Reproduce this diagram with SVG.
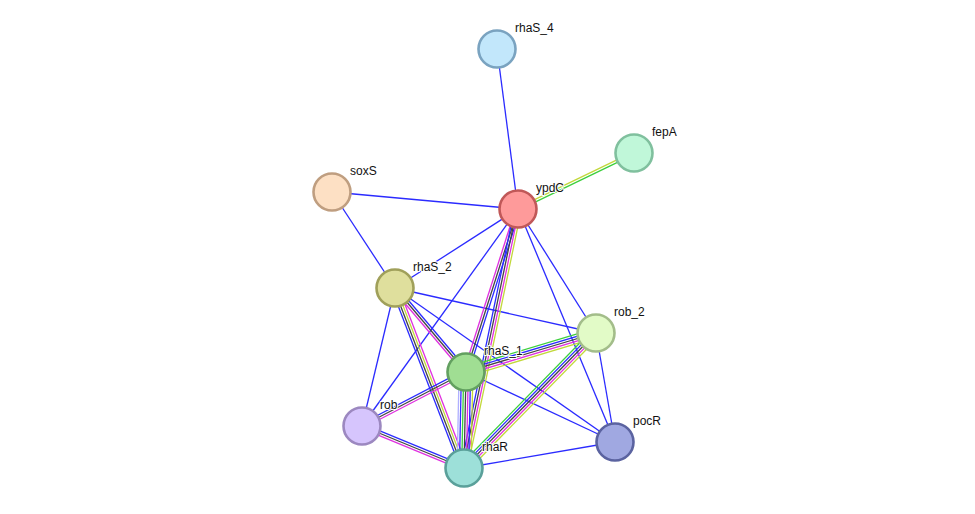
<svg xmlns="http://www.w3.org/2000/svg" width="975" height="514" viewBox="0 0 975 514">
<style>
.e line{stroke-width:1.3;fill:none}
.s{stroke:#2b2bff;stroke-width:1.3}
.b{stroke:#2b2bff}.k{stroke:#444}.m{stroke:#e030e0}.y{stroke:#c2d83a}.g{stroke:#3ccf3c}.l{stroke:#b0b0ff}
.n circle{stroke-width:2.6}
.n text{font-family:"Liberation Sans",Arial,sans-serif;font-size:12px;fill:#111;paint-order:stroke;stroke:#fff;stroke-width:2px;stroke-linejoin:round}
</style>
<rect width="975" height="514" fill="#fff"/>
<g id="connectors" class="e">
<line class="s" x1="497" y1="49" x2="518" y2="209"/>
<line class="s" x1="332" y1="192" x2="518" y2="209"/>
<line class="s" x1="332" y1="192" x2="395" y2="288"/>
<line class="s" x1="518" y1="209" x2="395" y2="288"/>
<line class="s" x1="518" y1="209" x2="362" y2="426"/>
<line class="s" x1="518" y1="209" x2="596" y2="333"/>
<line class="s" x1="518" y1="209" x2="615" y2="442"/>
<line class="s" x1="395" y1="288" x2="596" y2="333"/>
<line class="s" x1="395" y1="288" x2="615" y2="442"/>
<line class="s" x1="395" y1="288" x2="362" y2="426"/>
<line class="s" x1="596" y1="333" x2="615" y2="442"/>
<line class="s" x1="466" y1="372" x2="615" y2="442"/>
<line class="s" x1="464" y1="468" x2="615" y2="442"/>
<g transform="translate(518 209) rotate(-25.77)">
<line class="y" x1="0" y1="-1.2" x2="128.8" y2="-1.2"/>
<line class="g" x1="0" y1="1.2" x2="128.8" y2="1.2"/>
</g>
<g transform="translate(518 209) rotate(107.69)">
<line class="b" x1="0" y1="-2.3" x2="171.1" y2="-2.3"/>
<line class="k" x1="0" y1="0" x2="171.1" y2="0"/>
<line class="m" x1="0" y1="2.3" x2="171.1" y2="2.3"/>
</g>
<g transform="translate(518 209) rotate(101.78)">
<line class="b" x1="0" y1="3.45" x2="264.6" y2="3.45"/>
<line class="k" x1="0" y1="1.15" x2="264.6" y2="1.15"/>
<line class="m" x1="0" y1="-1.15" x2="264.6" y2="-1.15"/>
<line class="y" x1="0" y1="-3.45" x2="264.6" y2="-3.45"/>
</g>
<g transform="translate(395 288) rotate(49.8)">
<line class="b" x1="0" y1="-2.3" x2="110" y2="-2.3"/>
<line class="k" x1="0" y1="0" x2="110" y2="0"/>
<line class="m" x1="0" y1="2.3" x2="110" y2="2.3"/>
</g>
<g transform="translate(395 288) rotate(69.03)">
<line class="b" x1="0" y1="3.45" x2="192.8" y2="3.45"/>
<line class="k" x1="0" y1="1.15" x2="192.8" y2="1.15"/>
<line class="y" x1="0" y1="-1.15" x2="192.8" y2="-1.15"/>
<line class="m" x1="0" y1="-3.45" x2="192.8" y2="-3.45"/>
</g>
<g transform="translate(596 333) rotate(163.3)">
<line class="g" x1="0" y1="4.6" x2="135.7" y2="4.6"/>
<line class="b" x1="0" y1="2.3" x2="135.7" y2="2.3"/>
<line class="k" x1="0" y1="0" x2="135.7" y2="0"/>
<line class="m" x1="0" y1="-2.3" x2="135.7" y2="-2.3"/>
<line class="y" x1="0" y1="-4.6" x2="135.7" y2="-4.6"/>
</g>
<g transform="translate(596 333) rotate(134.36)">
<line class="g" x1="0" y1="4.6" x2="188.8" y2="4.6"/>
<line class="b" x1="0" y1="2.3" x2="188.8" y2="2.3"/>
<line class="k" x1="0" y1="0" x2="188.8" y2="0"/>
<line class="m" x1="0" y1="-2.3" x2="188.8" y2="-2.3"/>
<line class="y" x1="0" y1="-4.6" x2="188.8" y2="-4.6"/>
</g>
<g transform="translate(466 372) rotate(91.19)">
<line class="l" x1="0" y1="6.9" x2="96" y2="6.9"/>
<line class="b" x1="0" y1="4.6" x2="96" y2="4.6"/>
<line class="g" x1="0" y1="2.3" x2="96" y2="2.3"/>
<line class="k" x1="0" y1="0" x2="96" y2="0"/>
<line class="m" x1="0" y1="-2.3" x2="96" y2="-2.3"/>
<line class="b" x1="0" y1="-4.6" x2="96" y2="-4.6"/>
<line class="y" x1="0" y1="-6.9" x2="96" y2="-6.9"/>
</g>
<g transform="translate(362 426) rotate(-27.44)">
<line class="b" x1="0" y1="-2.3" x2="117.2" y2="-2.3"/>
<line class="k" x1="0" y1="0" x2="117.2" y2="0"/>
<line class="m" x1="0" y1="2.3" x2="117.2" y2="2.3"/>
</g>
<g transform="translate(362 426) rotate(22.38)">
<line class="b" x1="0" y1="-2.3" x2="110.3" y2="-2.3"/>
<line class="k" x1="0" y1="0" x2="110.3" y2="0"/>
<line class="m" x1="0" y1="2.3" x2="110.3" y2="2.3"/>
</g>
</g>
<g id="rhaS_4" class="n"><circle cx="497" cy="49" r="18.5" fill="#c2e7fb" stroke="#7aa3c0"/><text x="515" y="32">rhaS_4</text></g>
<g id="fepA" class="n"><circle cx="634" cy="153" r="18.5" fill="#c0f7d9" stroke="#80c09e"/><text x="652" y="136">fepA</text></g>
<g id="soxS" class="n"><circle cx="332" cy="192" r="18.5" fill="#fde0c4" stroke="#bf9e80"/><text x="350" y="175">soxS</text></g>
<g id="ypdC" class="n"><circle cx="518" cy="209" r="18.5" fill="#fe9a9a" stroke="#c05858"/><text x="536" y="192">ypdC</text></g>
<g id="rhaS_2" class="n"><circle cx="395" cy="288" r="18.5" fill="#dfdf9d" stroke="#a0a05a"/><text x="413" y="271">rhaS_2</text></g>
<g id="rob_2" class="n"><circle cx="596" cy="333" r="18.5" fill="#e2fbc7" stroke="#a3bd8a"/><text x="614" y="316">rob_2</text></g>
<g id="rhaS_1" class="n"><circle cx="466" cy="372" r="18.5" fill="#a0de93" stroke="#63a060"/><text x="484" y="355">rhaS_1</text></g>
<g id="rob" class="n"><circle cx="362" cy="426" r="18.5" fill="#d6c5fd" stroke="#9c88c0"/><text x="380" y="409">rob</text></g>
<g id="pocR" class="n"><circle cx="615" cy="442" r="18.5" fill="#a0a8e1" stroke="#5b63a0"/><text x="633" y="425">pocR</text></g>
<g id="rhaR" class="n"><circle cx="464" cy="468" r="18.5" fill="#9de0d9" stroke="#5aa09a"/><text x="482" y="451">rhaR</text></g>
</svg>
